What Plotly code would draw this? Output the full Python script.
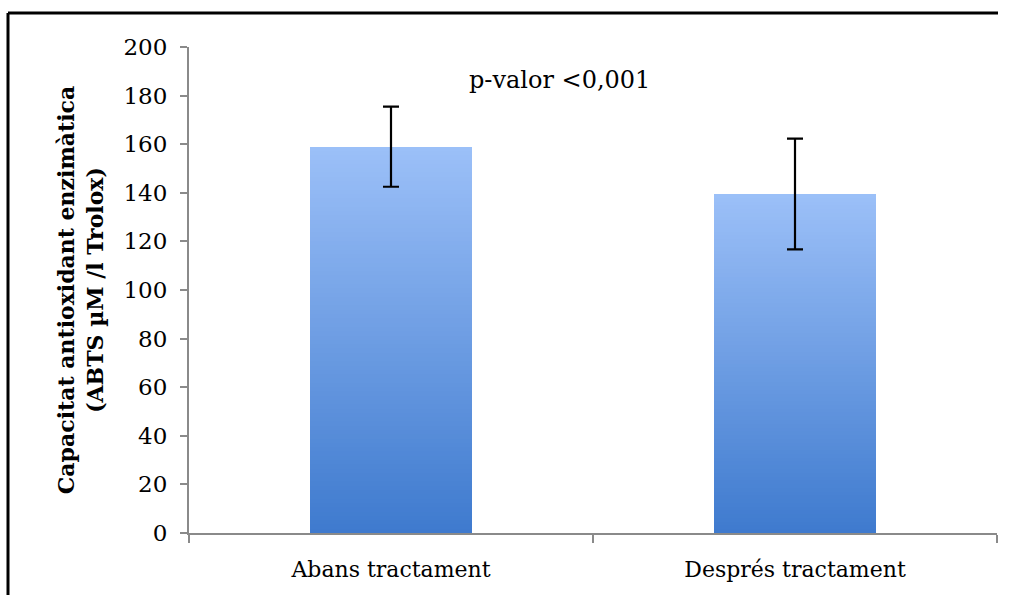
import plotly.graph_objects as go

categories = ["Abans tractament", "Després tractament"]
values = [159.0, 139.5]
errors = [16.5, 22.8]
y_ticks = [0, 20, 40, 60, 80, 100, 120, 140, 160, 180, 200]
y_title = "Capacitat antioxidant enzimàtica<br>(ABTS µM /l Trolox)"
annotation_text = "p-valor <0,001"

color_bottom = (62, 122, 206)
color_top = (156, 192, 248)
N = 90

W, H = 1018, 595
ml, mr, mt, mb = 189, 21, 47, 62
pw, ph = W - ml - mr, H - mt - mb

fig = go.Figure()
for i in range(N):
    t = (i + 0.5) / N
    c = tuple(round(color_bottom[k] + (color_top[k] - color_bottom[k]) * t) for k in range(3))
    fig.add_trace(go.Bar(
        x=categories, y=[v / N for v in values],
        marker=dict(color="rgb(%d,%d,%d)" % c, line=dict(width=0)),
        width=0.4, showlegend=False, hoverinfo="skip"))

fig.add_trace(go.Scatter(
    x=categories, y=values, mode="markers",
    marker=dict(opacity=0, size=1), showlegend=False, hoverinfo="skip",
    error_y=dict(type="data", array=errors, visible=True, color="black",
                 thickness=2.2, width=8)))

serif = "DejaVu Serif"
fx0 = (8 - ml) / pw
fx1 = (W - 20 - ml) / pw
fy_top = (H - mb - 13) / ph
fy_bot = (H - mb - H) / ph
fig.update_layout(
    width=W, height=H, barmode="stack", bargap=0.6,
    margin=dict(l=ml, r=mr, t=mt, b=mb),
    paper_bgcolor="white", plot_bgcolor="white",
    font=dict(family=serif, color="black", size=22),
    xaxis=dict(showgrid=False, showline=True, linecolor="#8a8a8a", linewidth=2,
               ticks="outside", tickson="boundaries", ticklen=8, tickwidth=2,
               tickcolor="#8a8a8a", tickfont=dict(family=serif, size=22),
               ticklabelstandoff=16),
    yaxis=dict(range=[0, 200], tickvals=y_ticks, showgrid=False, showline=True,
               linecolor="#8a8a8a", linewidth=2, ticks="outside", ticklen=7,
               tickwidth=2, tickcolor="#8a8a8a", zeroline=False,
               tickfont=dict(family=serif, size=23), ticklabelstandoff=8,
               title=dict(text=y_title, font=dict(family=serif, size=22, weight="bold"),
                          standoff=14)),
    annotations=[dict(text=annotation_text, xref="paper", yref="paper",
                      x=(559 - ml) / pw, y=(H - mb - 80) / ph, showarrow=False,
                      font=dict(family=serif, size=24), xanchor="center", yanchor="middle")],
    shapes=[
        dict(type="line", xref="paper", yref="paper", x0=fx0, x1=fx1, y0=fy_top, y1=fy_top,
             line=dict(color="black", width=3), layer="above"),
        dict(type="line", xref="paper", yref="paper", x0=fx0, x1=fx0, y0=fy_top, y1=fy_bot,
             line=dict(color="black", width=3), layer="above"),
    ],
)

fig.write_html("out.html")
